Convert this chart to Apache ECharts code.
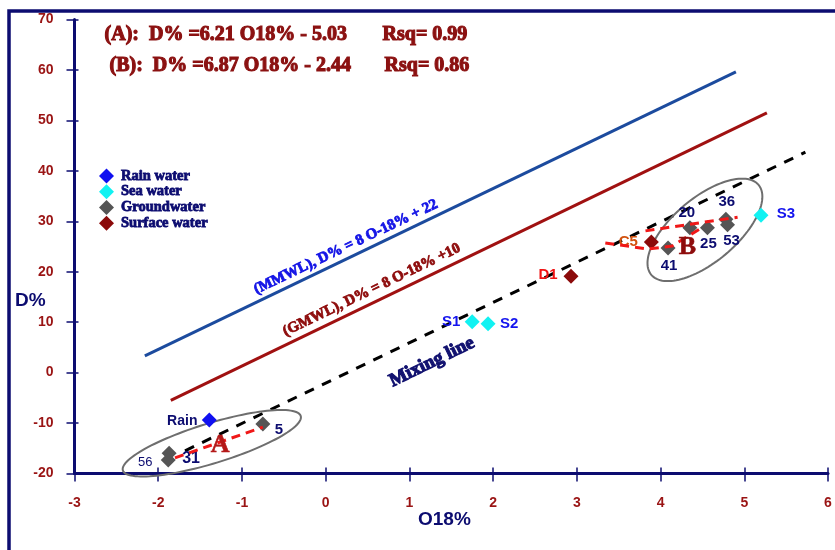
<!DOCTYPE html>
<html>
<head>
<meta charset="utf-8">
<script src="https://cdn.jsdelivr.net/npm/echarts@6/dist/echarts.min.js"></script>
<style>
  html, body { margin: 0; padding: 0; background: #ffffff; }
  #chart { width: 835px; height: 550px; }
</style>
</head>
<body>
<div id="chart"></div>
<script>
// Axis ranges: O18% (x) and D% (y)
const xMin = -3, xMax = 6, xStep = 1;
const yMin = -20, yMax = 70, yStep = 10;

// Samples: [label, O18%, D%]
const rainWater = [['Rain', -1.39, -9.4]];
const seaWater = [['S1', 1.75, 10.1], ['S2', 1.94, 9.7], ['S3', 5.20, 31.2]];
const groundWater = [
  ['5', -0.75, -10.2], ['31', -1.87, -16.0], ['56', -1.88, -17.3],
  ['41', 4.09, 24.7], ['20', 4.35, 28.7], ['25', 4.56, 28.7],
  ['36', 4.78, 30.4], ['53', 4.80, 29.3]
];
const surfaceWater = [['C5', 3.89, 25.9], ['D1', 2.93, 19.1]];

// Reference lines: [O18%, D%] end points
const mmwlLine = [[-2.16, 3.3], [4.90, 59.6]];
const gmwlLine = [[-1.85, -5.5], [5.27, 51.5]];
const mixingLine = [[-1.68, -15.5], [5.73, 43.7]];
const trendA = [[-1.80, -16.9], [-0.75, -10.8]];
const trendBLow = [[3.34, 25.7], [3.85, 24.5], [4.14, 25.1], [4.47, 28.5]];
const trendBHigh = [[3.82, 28.1], [4.92, 30.8]];

// Group envelopes: [name, centre O18%, centre D%]
const groups = [['A', -1.36, -14.0], ['B', 4.53, 28.3]];

// Text placed along the lines: [text, O18%, D%]
const lineNotes = [
  ['(MMWL), D% = 8 O-18% + 22', 0.24, 24.9],
  ['(GMWL), D% = 8 O-18% +10', 0.55, 16.4],
  ['Mixing line', 1.27, 2.1],
  ['A', -1.26, -14.4],
  ['B', 4.32, 24.9]
];

const equationLines = [
  ['(A):  D% =6.21 O18% - 5.03', 'Rsq= 0.99'],
  ['(B):  D% =6.87 O18% - 2.44', 'Rsq= 0.86']
];

// ---- styling ----
const NAVY = '#0c0c70';
const TICK_RED = '#9a1414';
const EQ_RED = '#8b1111';
const SANS = 'Liberation Sans';
const SERIF = 'Liberation Serif';

const pointLabel = {
  'Rain': { offset: [-27, 1], color: NAVY, size: 14 },
  '5':  { offset: [16, 6], color: NAVY, size: 15 },
  '31': { offset: [22, 5], color: NAVY, size: 16 },
  '56': { offset: [-23, 3], color: NAVY, size: 13, weight: 'normal' },
  '41': { offset: [1, 18], color: NAVY, size: 15 },
  '20': { offset: [-3, -15], color: NAVY, size: 15 },
  '25': { offset: [1, 16], color: NAVY, size: 15 },
  '36': { offset: [1, -17], color: NAVY, size: 15 },
  '53': { offset: [4, 16], color: NAVY, size: 15 },
  'C5': { offset: [-23, 0], color: '#d2510e', size: 15 },
  'D1': { offset: [-23, -1], color: '#f01414', size: 15 },
  'S1': { offset: [-21, 0], color: '#1414ee', size: 15 },
  'S2': { offset: [21, 0], color: '#1414ee', size: 15 },
  'S3': { offset: [25, -1], color: '#1414ee', size: 15 }
};

// heavy serif lettering: filled glyphs plus an outline of the same colour
const noteStyle = {
  '(MMWL), D% = 8 O-18% + 22': { color: '#1515e6', size: 15, rotate: 25.5, stroke: 0.8 },
  '(GMWL), D% = 8 O-18% +10': { color: '#8e0c0c', size: 15, rotate: 25.8, stroke: 0.8 },
  'Mixing line': { color: '#121270', size: 19, rotate: 26, stroke: 1.1 },
  'A': { color: '#b41818', size: 26, rotate: 0, stroke: 0.6 },
  'B': { color: '#8e0c0c', size: 26, rotate: 0, stroke: 0.6 }
};

const envelopeShape = {
  A: { rx: 93, ry: 20, angle: 17 },
  B: { rx: 70, ry: 32, angle: 40 }
};

function toPoints(rows) {
  return rows.map(function (r) {
    const s = pointLabel[r[0]];
    return {
      name: r[0],
      value: [r[1], r[2]],
      label: {
        show: true,
        position: 'inside',
        offset: s.offset,
        formatter: '{b}',
        color: s.color,
        fontSize: s.size,
        fontWeight: s.weight || 'bold',
        fontFamily: SANS
      }
    };
  });
}

function scatterSeries(name, color, rows) {
  return {
    name: name,
    type: 'scatter',
    symbol: 'diamond',
    symbolSize: 15,
    itemStyle: { color: color, opacity: 1 },
    data: toPoints(rows),
    z: 5,
    silent: true
  };
}

function lineSeries(data, color, width, dash, z) {
  return {
    type: 'line',
    data: data,
    symbol: 'none',
    lineStyle: { color: color, width: width, type: dash || 'solid', cap: 'butt' },
    z: z,
    silent: true,
    animation: false
  };
}

function plainText(str, left, top, color, size, family, strokeW) {
  return {
    type: 'text', left: left, top: top, silent: true,
    style: {
      text: str, fill: color, fontSize: size, fontWeight: 'bold', fontFamily: family,
      stroke: strokeW ? color : null, lineWidth: strokeW || 0
    }
  };
}

const chart = echarts.init(document.getElementById('chart'));

const option = {
  animation: false,
  backgroundColor: '#ffffff',
  grid: { left: 74.5, right: 7, top: 19.5, bottom: 76.5 },
  xAxis: [
    {
      type: 'value', min: xMin, max: xMax, interval: xStep,
      axisLine: { show: true, onZero: false, lineStyle: { color: NAVY, width: 3 } },
      axisTick: { show: true, inside: false, length: 8, lineStyle: { color: NAVY, width: 1.5 } },
      axisLabel: { color: TICK_RED, fontFamily: SANS, fontWeight: 'bold', fontSize: 14, margin: 23 },
      splitLine: { show: false }
    },
    {
      type: 'value', min: xMin, max: xMax, interval: xStep, position: 'bottom',
      axisLine: { show: false, onZero: false },
      axisTick: { show: true, inside: true, length: 6, lineStyle: { color: NAVY, width: 1.5 } },
      axisLabel: { show: false },
      splitLine: { show: false }
    }
  ],
  yAxis: [
    {
      type: 'value', min: yMin, max: yMax, interval: yStep,
      axisLine: { show: true, onZero: false, lineStyle: { color: NAVY, width: 3 } },
      axisTick: { show: true, inside: false, length: 8, lineStyle: { color: NAVY, width: 1.5 } },
      axisLabel: { color: TICK_RED, fontFamily: SANS, fontWeight: 'bold', fontSize: 14, margin: 21 },
      splitLine: { show: false }
    },
    {
      type: 'value', min: yMin, max: yMax, interval: yStep, position: 'left',
      axisLine: { show: false, onZero: false },
      axisTick: { show: true, inside: true, length: 4, lineStyle: { color: NAVY, width: 1.5 } },
      axisLabel: { show: false },
      splitLine: { show: false }
    }
  ],
  legend: {
    data: ['Rain water', 'Sea water', 'Groundwater', 'Surface water'],
    orient: 'vertical',
    left: 94,
    top: 163,
    itemWidth: 15,
    itemHeight: 15,
    itemGap: 0,
    icon: 'diamond',
    selectedMode: false,
    textStyle: {
      color: NAVY, fontFamily: SERIF, fontWeight: 'bold', fontSize: 14.5, padding: [0, 0, 0, 2],
      textBorderColor: NAVY, textBorderWidth: 0.8
    }
  },
  graphic: [
    // outer frame
    { type: 'rect', shape: { x: 9, y: 11, width: 900, height: 600 },
      style: { fill: 'none', stroke: NAVY, lineWidth: 3.5 }, silent: true },
    plainText(equationLines[0][0], 104, 24, EQ_RED, 20, SERIF, 1.1),
    plainText(equationLines[0][1], 382, 24, EQ_RED, 20, SERIF, 1.1),
    plainText(equationLines[1][0], 109, 55, EQ_RED, 20, SERIF, 1.1),
    plainText(equationLines[1][1], 384, 55, EQ_RED, 20, SERIF, 1.1),
    // axis titles
    plainText('D%', 15, 291, NAVY, 19, SANS),
    plainText('O18%', 418, 510, NAVY, 19, SANS)
  ],
  series: [
    lineSeries(mmwlLine, '#1c4b9e', 3, 'solid', 2),
    lineSeries(gmwlLine, '#a01111', 3, 'solid', 2),
    lineSeries(mixingLine, '#000000', 3, [10, 9], 2),
    {
      type: 'custom',
      silent: true,
      z: 3,
      data: groups.map(function (g) { return { name: g[0], value: [g[1], g[2]] }; }),
      renderItem: function (params, api) {
        const c = api.coord([api.value(0), api.value(1)]);
        const shp = envelopeShape[groups[params.dataIndex][0]];
        const t = shp.angle * Math.PI / 180;
        const pts = [];
        for (let i = 0; i < 120; i++) {
          const f = i / 120 * Math.PI * 2;
          const u = shp.rx * Math.cos(f), v = shp.ry * Math.sin(f);
          pts.push([c[0] + u * Math.cos(t) + v * Math.sin(t),
                    c[1] - u * Math.sin(t) + v * Math.cos(t)]);
        }
        return {
          type: 'polygon',
          shape: { points: pts },
          style: { fill: 'none', stroke: '#6e6e6e', lineWidth: 2 }
        };
      }
    },
    scatterSeries('Rain water', '#1010f0', rainWater),
    scatterSeries('Sea water', '#11f2f2', seaWater),
    scatterSeries('Groundwater', '#555555', groundWater),
    scatterSeries('Surface water', '#8b0a0a', surfaceWater),
    lineSeries(trendA, '#f01818', 3, [9, 6], 8),
    lineSeries(trendBLow, '#f01818', 3, [9, 6], 8),
    lineSeries(trendBHigh, '#f01818', 3, [9, 6], 8),
    {
      type: 'custom',
      silent: true,
      z: 9,
      data: lineNotes.map(function (n) { return { name: n[0], value: [n[1], n[2]] }; }),
      renderItem: function (params, api) {
        const c = api.coord([api.value(0), api.value(1)]);
        const txt = lineNotes[params.dataIndex][0];
        const s = noteStyle[txt];
        return {
          type: 'text',
          x: c[0], y: c[1],
          rotation: s.rotate * Math.PI / 180,
          style: {
            text: txt,
            fill: s.color,
            fontSize: s.size,
            fontWeight: 'bold',
            fontFamily: SERIF,
            align: 'center',
            verticalAlign: 'middle',
            stroke: s.color,
            lineWidth: s.stroke
          }
        };
      }
    }
  ]
};

chart.setOption(option);
</script>
</body>
</html>
